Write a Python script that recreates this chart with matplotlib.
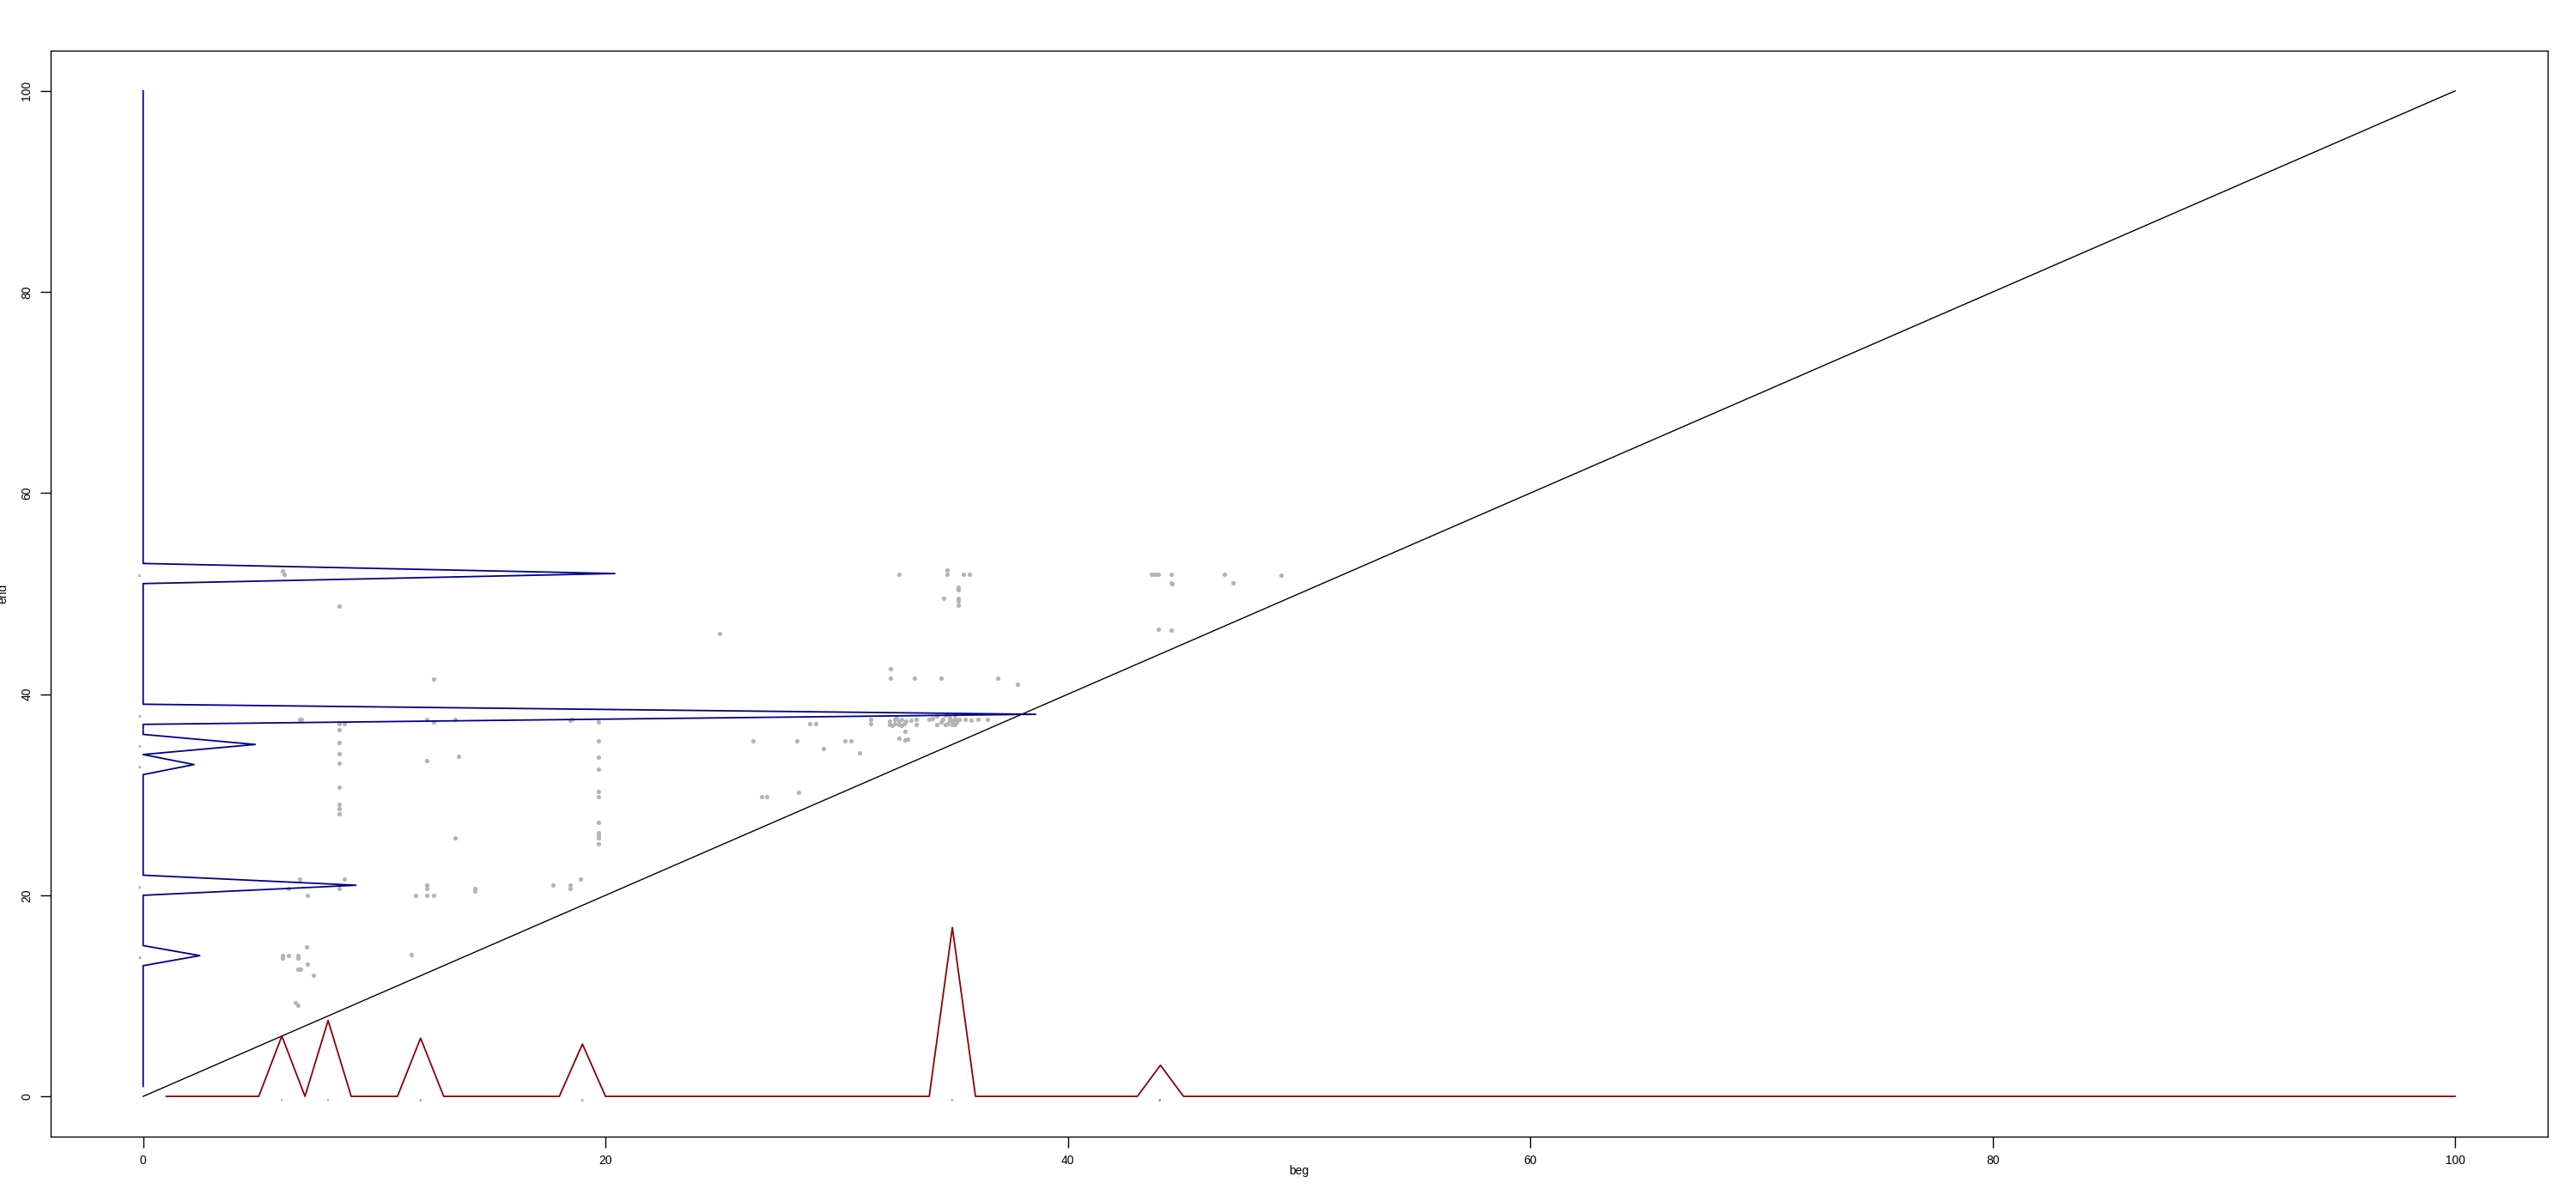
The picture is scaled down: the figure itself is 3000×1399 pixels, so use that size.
import numpy as np
import matplotlib.pyplot as plt

# frequency peaks of "beg" (drawn along the x axis, red)
beg_pos = list(range(1, 101))
beg_peak_at = [6, 8, 12, 19, 35, 44]
beg_peak_h = [6.0, 7.55, 5.8, 5.2, 16.8, 3.1]

# frequency peaks of "end" (drawn along the y axis, blue)
end_pos = list(range(1, 101))
end_peak_at = [14, 21, 33, 35, 38, 52]
end_peak_h = [2.45, 9.2, 2.2, 4.85, 38.6, 20.4]

# scatter of (beg, end) pairs
beg = [6.03, 6.09, 8.48, 12.58, 6.76, 6.85, 8.48, 8.69, 8.48, 8.48, 8.48, 8.48,
       12.26, 12.58, 13.48, 12.27, 13.65, 18.46, 18.55, 19.71, 19.71, 19.71, 19.71,
       8.48, 8.48, 8.48, 8.48, 13.48, 6.76, 6.29, 7.09, 8.70, 8.48, 12.27, 12.27,
       11.79, 12.27, 12.58, 14.34, 14.34, 17.72, 18.46, 18.46, 18.93, 19.71, 19.71,
       19.71, 19.71, 19.71, 19.71, 19.71, 7.08, 6.03, 6.03, 6.29, 6.71, 6.71, 7.09,
       6.71, 6.80, 7.37, 6.57, 6.71, 11.61,
       32.7, 34.77, 34.77, 35.47, 35.73, 35.26, 35.26, 34.64, 35.26, 35.26, 35.26,
       24.94, 32.34, 32.34, 33.36, 34.52, 31.46, 31.46, 28.83, 29.09, 26.39, 28.27,
       30.35, 30.6, 29.42, 30.99, 32.97, 32.7, 32.97, 33.05, 26.74, 26.96, 28.36,
       43.6, 43.76, 43.9, 44.46, 44.46, 44.5, 46.77, 47.13, 49.23, 43.9, 44.46,
       37.83, 36.97,
       32.3, 32.3, 32.5, 32.5, 32.6, 32.7, 32.7, 32.8, 32.9, 33.0, 32.4, 32.8, 33.2,
       33.45, 33.45, 33.98, 34.13, 34.31, 34.31, 34.5, 34.6, 34.7, 34.8, 34.9, 34.9,
       35.0, 35.0, 35.1, 35.2, 35.3, 34.7, 35.1, 35.54, 35.8, 36.1, 36.5, 34.77, 35.1]
end = [52.28, 51.9, 48.76, 41.5, 37.46, 37.5, 37.03, 37.03, 36.5, 35.17, 34.1, 33.1,
       37.5, 37.26, 37.46, 33.42, 33.79, 37.4, 37.5, 37.26, 35.33, 33.76, 32.5,
       30.77, 29.0, 28.6, 28.1, 25.7, 21.58, 20.64, 19.96, 21.58, 20.64, 21.0, 20.7,
       19.96, 19.96, 19.96, 20.7, 20.45, 21.04, 21.0, 20.64, 21.58, 30.29, 29.78,
       27.22, 26.22, 25.99, 25.73, 25.08, 14.89, 13.98, 13.75, 13.98, 13.98, 13.8, 13.18,
       12.62, 12.62, 12.02, 9.29, 9.09, 14.12,
       51.9, 52.37, 51.92, 51.94, 51.94, 50.63, 50.4, 49.55, 49.55, 49.3, 48.87,
       46.03, 42.5, 41.6, 41.6, 41.6, 37.5, 37.03, 37.03, 37.03, 35.38, 35.38,
       35.38, 35.38, 34.56, 34.13, 36.27, 35.64, 35.44, 35.5, 29.78, 29.78, 30.23,
       51.94, 51.94, 51.94, 51.94, 51.06, 51.0, 51.94, 51.06, 51.8, 46.43, 46.4,
       40.99, 41.6,
       37.0, 37.3, 37.1, 37.5, 37.7, 37.0, 37.3, 37.5, 37.1, 37.3, 36.9, 36.9, 37.4,
       37.5, 37.0, 37.5, 37.6, 37.8, 37.0, 37.2, 37.5, 37.9, 37.1, 37.4, 37.7,
       37.0, 37.3, 37.6, 37.2, 37.5, 37.0, 36.95, 37.5, 37.4, 37.5, 37.45, 38.03, 37.9]

beg_counts = np.zeros(len(beg_pos))
for p, h in zip(beg_peak_at, beg_peak_h):
    beg_counts[beg_pos.index(p)] = h
end_counts = np.zeros(len(end_pos))
for p, h in zip(end_peak_at, end_peak_h):
    end_counts[end_pos.index(p)] = h

plt.rcParams['font.family'] = ['Liberation Sans', 'DejaVu Sans']

W, H = 3000, 1399
fig = plt.figure(figsize=(W / 100, H / 100), dpi=100)
ax = fig.add_axes([59 / W, 75 / H, 2908 / W, 1265 / H])

ax.scatter(beg, end, s=14, color='#b4b4b4', marker='o', linewidths=0, zorder=2)
ax.plot([0, 100], [0, 100], color='black', lw=1.0, zorder=3)
ax.plot(beg_pos, beg_counts, color='#8b0000', lw=1.3, zorder=4)
ax.plot(end_counts, end_pos, color='#00008b', lw=1.3, zorder=4)

for p in beg_peak_at:
    ax.text(p, -0.4, str(p), fontsize=3, color='#555555', ha='center', va='center')
for p in end_peak_at:
    ax.text(-0.15, p - 0.25, str(p), fontsize=3, color='#555555', ha='center', va='center')

ax.set_xlim(-4, 104)
ax.set_ylim(-4, 104)
ax.set_xticks([0, 20, 40, 60, 80, 100])
ax.set_yticks([0, 20, 40, 60, 80, 100])
ax.tick_params(direction='out', length=9, width=1, labelsize=10, pad=6, colors='black')
plt.setp(ax.get_yticklabels(), rotation=90, va='center')
for s in ax.spines.values():
    s.set_linewidth(1)
ax.set_xlabel('beg', fontsize=10)
ax.set_ylabel('end', fontsize=10)
ax.xaxis.set_label_coords(0.5, -0.026)
ax.yaxis.set_label_coords(-0.0168, 0.5)

fig.savefig('out.png', dpi=100)
